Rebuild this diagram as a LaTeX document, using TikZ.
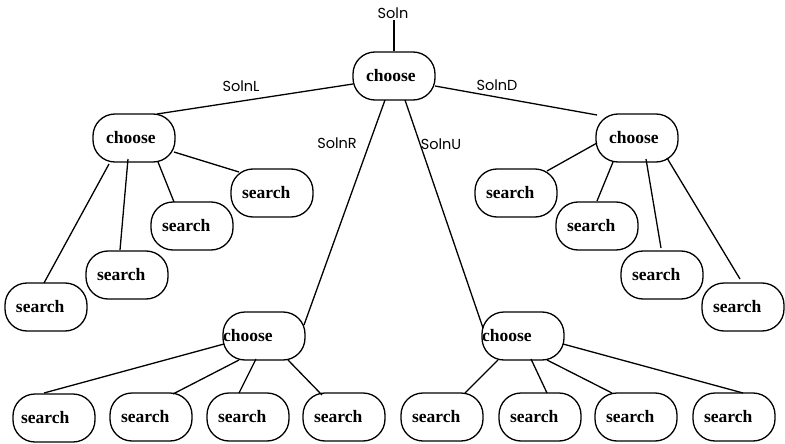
\documentclass[tikz,border=0pt]{standalone}
\usepackage{fontspec}
\setmainfont{Liberation Serif}
\newfontfamily\lblfont{Poppins}
\usetikzlibrary{calc}
\begin{document}
\begin{tikzpicture}[x=1pt,y=-1pt,
  pill/.style={draw, line width=1.3pt, rounded corners=22pt,
    minimum width=82pt, minimum height=48pt, inner ysep=0pt,
    font=\fontsize{17.5}{19}\selectfont\bfseries, align=left},
  choosebox/.style={pill, inner xsep=13pt, text width=56pt},
  flushbox/.style={pill, inner xsep=0pt, text width=82pt},
  searchbox/.style={pill, inner xsep=11pt, text width=60pt},
  lbl/.style={inner sep=0pt, font=\lblfont\fontsize{14.5}{16}\selectfont},
  edge/.style={line width=1.3pt}]
\useasboundingbox (0,0) rectangle (785,444);

% choice points
\node[choosebox] (c0) at (394,76) {choose};
\node[choosebox] (cL) at (134,138) {choose};
\node[choosebox] (cD) at (637,138) {choose};
\node[flushbox]  (cR) at (264,336) {choose};
\node[flushbox]  (cU) at (523,336) {choose};

% search leaves
\node[searchbox] (sL1) at (46,307) {search};
\node[searchbox] (sL2) at (127,275) {search};
\node[searchbox] (sL3) at (192,226) {search};
\node[searchbox] (sL4) at (272,193) {search};
\node[searchbox] (sD1) at (516,193) {search};
\node[searchbox] (sD2) at (597,226) {search};
\node[searchbox] (sD3) at (662,275) {search};
\node[searchbox] (sD4) at (743,307) {search};
\node[searchbox, inner xsep=8pt, text width=66pt] (sR1) at (54,418) {search};
\node[searchbox] (sR2) at (151,417) {search};
\node[searchbox] (sR3) at (248,417) {search};
\node[searchbox] (sR4) at (344,417) {search};
\node[searchbox] (sU1) at (442,417) {search};
\node[searchbox] (sU2) at (540,417) {search};
\node[searchbox] (sU3) at (636,417) {search};
\node[searchbox] (sU4) at (734,417) {search};

% labels
\node[lbl] (ls)  at (393,13)  {Soln};
\node[lbl] (lL)  at (241,86)  {SolnL};
\node[lbl] (lR)  at (337,143) {SolnR};
\node[lbl] (lU)  at (441,144) {SolnU};
\node[lbl] (lD)  at (497,85)  {SolnD};

% root
\draw[edge] ($(ls.south)+(1,1)$) -- (c0.north);
\draw[edge] ($(c0)+(-41,8)$)  -- ($(cL)+(23,-24)$);
\draw[edge] ($(c0)+(41,10)$)  -- ($(cD)+(-40,-23)$);
\draw[edge] ($(c0)+(-9,24)$)  -- ($(cR)+(40,-11)$);
\draw[edge] ($(c0)+(11,24)$)  -- ($(cU)+(-40,-8)$);

% left subtree
\draw[edge] ($(cL)+(40,14)$)  -- ($(sL4)+(-33,-21)$);
\draw[edge] ($(cL)+(24,24)$)  -- ($(sL3)+(-18,-24)$);
\draw[edge] ($(cL)+(-6,21)$)  -- ($(sL2)+(-7,-25)$);
\draw[edge] ($(cL)+(-25,26)$) -- ($(sL1)+(-2,-24)$);

% right subtree
\draw[edge] ($(cD)+(-40,5)$)  -- ($(sD1)+(31,-22)$);
\draw[edge] ($(cD)+(-24,24)$) -- ($(sD2)+(0,-25)$);
\draw[edge] ($(cD)+(9,21)$)   -- ($(sD3)+(-1,-27)$);
\draw[edge] ($(cD)+(30,20)$)  -- ($(sD4)+(-3,-28)$);

% lower left subtree
\draw[edge] ($(cR)+(-40,8)$)  -- ($(sR1)+(-10,-25)$);
\draw[edge] ($(cR)+(-25,24)$) -- ($(sR2)+(22,-23)$);
\draw[edge] ($(cR)+(-8,23)$)  -- ($(sR3)+(-9,-24)$);
\draw[edge] ($(cR)+(24,24)$)  -- ($(sR4)+(-22,-22)$);

% lower right subtree
\draw[edge] ($(cU)+(-25,24)$) -- ($(sU1)+(23,-24)$);
\draw[edge] ($(cU)+(8,23)$)   -- ($(sU2)+(7,-24)$);
\draw[edge] ($(cU)+(24,24)$)  -- ($(sU3)+(-24,-24)$);
\draw[edge] ($(cU)+(40,8)$)   -- ($(sU4)+(9,-24)$);
\end{tikzpicture}
\end{document}
